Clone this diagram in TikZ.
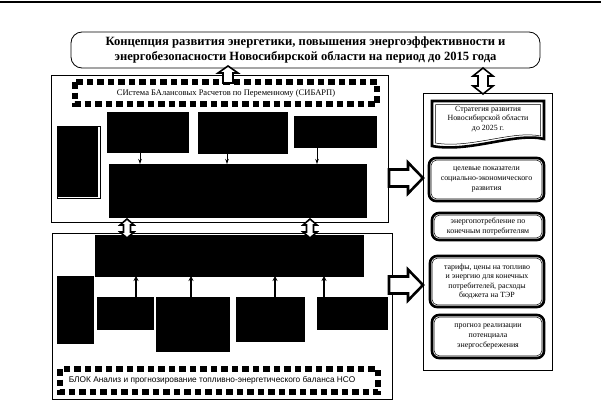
\documentclass[tikz,border=0pt]{standalone}
\usepackage{fontspec}
\setmainfont{Liberation Serif}
\newfontfamily\sansf{Liberation Sans}
\usetikzlibrary{calc,arrows.meta}
\begin{document}
\begin{tikzpicture}[x=1pt,y=-1pt,
  panel/.style={draw,line width=0.6pt,inner sep=0pt,outer sep=0pt},
  blk/.style={fill=black,draw=black,inner sep=0pt,outer sep=0pt},
  band/.style={draw,line width=5.5pt,dash pattern=on 6.5pt off 4pt},
  titlebox/.style={draw,line width=0.8pt,rounded corners=11pt,align=center,
    font=\bfseries\fontsize{12.6}{15}\selectfont,inner sep=0pt,
    minimum width=469pt,minimum height=36pt},
  rbox/.style={draw,line width=2.6pt,rounded corners=7pt,align=center,
    font=\fontsize{7.9}{9.6}\selectfont,inner sep=0pt},
  barrow/.style={draw,fill=white,line width=1.6pt,line join=miter},
  rarrow/.style={draw,fill=white,line width=2.6pt,line join=miter},
  tarr/.style={-{Stealth[length=5pt,width=3.5pt]},line width=0.9pt},
  targ/.style={-{Stealth[length=5pt,width=5pt]},line width=2pt},
  btext/.style={fill=white,inner sep=1pt}
]
\useasboundingbox (0,0) rectangle (601,404);
\draw[line width=1.2pt] (0,2) -- (601,2);

% title
\node[titlebox] (T) at (305.5,50) {Концепция развития энергетики, повышения энергоэффективности и\\энергобезопасности Новосибирской области на период до 2015 года};

% upper panel
\node[panel,minimum width=337pt,minimum height=147pt] (U) at (219.5,148.5) {};
\draw[band] (75,82) rectangle (377,104);
\node[btext,font=\fontsize{8.5}{10}\selectfont] (S) at (226,93) {СИстема БАлансовых Расчетов по Переменному (СИБАРП)};
\draw[line width=0.6pt] (57,126) rectangle (100,198);
\node[blk,minimum width=40pt,minimum height=69pt] (UL) at (77,161.5) {};
\node[blk,minimum width=81pt,minimum height=40pt] (A) at (147.5,132) {};
\node[blk,minimum width=89pt,minimum height=41pt] (B) at (242.5,132.5) {};
\node[blk,minimum width=82pt,minimum height=31pt] (C) at (335,131.5) {};
\node[blk,minimum width=257pt,minimum height=53pt] (M) at (237.5,190.5) {};
\draw[tarr] ([xshift=-7.5pt]A.south) -- ([xshift=-7.5pt]A.south |- M.north);
\draw[tarr] ([xshift=-15.5pt]B.south) -- ([xshift=-15.5pt]B.south |- M.north);
\draw[tarr] ([xshift=-18pt]C.south) -- ([xshift=-18pt]C.south |- M.north);

% lower panel
\node[panel,minimum width=340pt,minimum height=166pt] (L) at (222,316) {};
\node[blk,minimum width=268pt,minimum height=41pt] (M2) at (229,255.5) {};
\node[blk,minimum width=36pt,minimum height=67pt] (LL) at (75,309.5) {};
\node[blk,minimum width=56pt,minimum height=32pt] (D) at (125,313) {};
\node[blk,minimum width=73pt,minimum height=54pt] (E) at (192.5,324) {};
\node[blk,minimum width=68pt,minimum height=44pt] (F) at (270,319) {};
\node[blk,minimum width=70pt,minimum height=32pt] (G) at (352,313) {};
\draw[targ] ([xshift=11pt]D.north) -- ([xshift=11pt]D.north |- M2.south);
\draw[targ] ([xshift=-1.5pt]E.north) -- ([xshift=-1.5pt]E.north |- M2.south);
\draw[targ] ([xshift=5pt]F.north) -- ([xshift=5pt]F.north |- M2.south);
\draw[targ] ([xshift=-28pt]G.north) -- ([xshift=-28pt]G.north |- M2.south);
\draw[band] (60,369) rectangle (378,392);
\node[btext,font=\sansf\fontsize{8.3}{9.5}\selectfont] (BL) at (212,380.5) {БЛОК Анализ и прогнозирование топливно-энергетического баланса НСО};

% right column
\node[panel,minimum width=129pt,minimum height=277pt] (R) at (487.5,231.5) {};
\draw[line width=2.6pt,line join=miter] (432,101) -- (544,101) -- (544,139) .. controls (515,132) and (470,153) .. (432,146) -- cycle;
\draw[line width=0.5pt] (435.5,104.5) -- (540.5,104.5) -- (540.5,136) .. controls (513,130) and (470,149) .. (435.5,143) -- cycle;
\node[align=center,font=\fontsize{7.9}{9.6}\selectfont] (R1) at (488,119) {Стратегия развития\\Новосибирской области\\до 2025 г.};
\node[rbox,minimum width=115pt,minimum height=43pt] (R2) at (486.5,179.5) {целевые показатели\\социально-экономического\\развития};
\node[rbox,minimum width=112pt,minimum height=27pt] (R3) at (488,226.5) {энергопотребление по\\конечным потребителям};
\node[rbox,minimum width=114pt,minimum height=51pt] (R4) at (487,281.5) {тарифы, цены на топливо\\и энергию для конечных\\потребителей, расходы\\бюджета на ТЭР};
\node[rbox,minimum width=112pt,minimum height=43pt] (R5) at (488,336.5) {прогноз реализации\\потенциала\\энергосбережения};
\foreach \n in {R2,R3,R4,R5}
  \draw[line width=0.5pt,rounded corners=5pt] ([shift={(3.5pt,-3.5pt)}]\n.north west) rectangle ([shift={(-3.5pt,3.5pt)}]\n.south east);

% block arrows
\draw[barrow] (228,66) -- (238,73) -- (233,73) -- (233,83) -- (223,83) -- (223,73) -- (218,73) -- cycle;
\draw[barrow] (483,68) -- (493,76) -- (488,76) -- (488,86) -- (493,86) -- (483,94) -- (473,86) -- (478,86) -- (478,76) -- (473,76) -- cycle;
\draw[barrow] (127,219) -- (134,225) -- (130.5,225) -- (130.5,232) -- (134,232) -- (127,238) -- (120,232) -- (123.5,232) -- (123.5,225) -- (120,225) -- cycle;
\draw[barrow] (310,219) -- (317,225) -- (313.5,225) -- (313.5,232) -- (317,232) -- (310,238) -- (303,232) -- (306.5,232) -- (306.5,225) -- (303,225) -- cycle;
\draw[rarrow] (389,169.5) -- (408,169.5) -- (408,162.5) -- (423,178) -- (408,193.5) -- (408,186.5) -- (389,186.5) -- cycle;
\draw[rarrow] (389,276.5) -- (408,276.5) -- (408,269.5) -- (423,285) -- (408,300.5) -- (408,293.5) -- (389,293.5) -- cycle;
\end{tikzpicture}
\end{document}
